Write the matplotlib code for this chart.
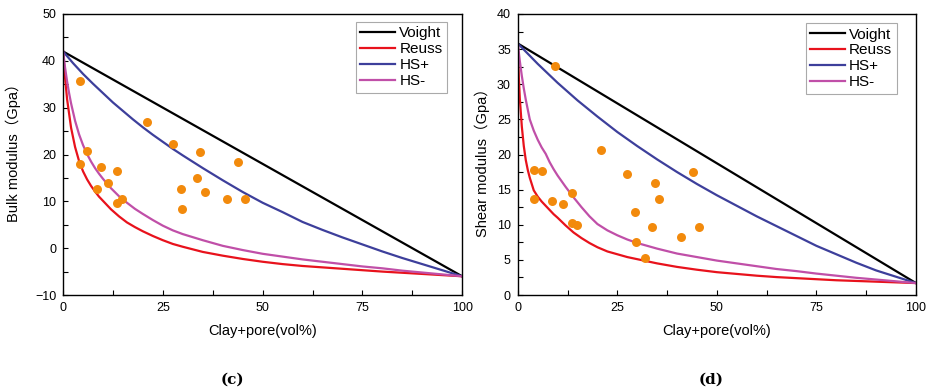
import matplotlib.pyplot as plt
from matplotlib.ticker import MultipleLocator

plt.rcParams['font.family'] = ['Liberation Sans', 'Noto Sans CJK SC']

# ---- (c) bulk modulus (GPa) vs clay+pore (vol%) ----
k_voigt_x = [0, 100]
k_voigt_y = [42, -6]
k_reuss_x = [0, 0.5, 1, 2, 3, 4, 5, 6, 7, 8, 9, 10, 12, 14, 16, 18, 20, 22.5, 25, 27.5, 30,
             35, 40, 45, 50, 55, 60, 65, 70, 75, 80, 85, 90, 95, 100]
k_reuss_y = [42, 36.3, 31.8, 25.7, 21.6, 18.6, 16.4, 14.7, 13.3, 12.1, 11.0, 10.1, 8.3, 6.8, 5.5,
             4.5, 3.6, 2.6, 1.7, 0.9, 0.3, -0.8, -1.6, -2.3, -2.9, -3.4, -3.8, -4.1, -4.4, -4.7,
             -5.0, -5.25, -5.5, -5.75, -6]
k_hsp_x = [0, 2.5, 5, 7.5, 10, 12.5, 15, 17.5, 20, 22.5, 25, 27.5, 30, 35, 40, 45, 50, 55, 60,
           65, 70, 75, 80, 85, 90, 95, 100]
k_hsp_y = [42, 39.5, 37.2, 35.1, 33.1, 31.1, 29.3, 27.5, 25.8, 24.2, 22.7, 21.2, 19.8, 17.1, 14.5,
           12.0, 9.7, 7.7, 5.6, 3.9, 2.3, 0.8, -0.7, -2.1, -3.4, -4.7, -6]
k_hsm_x = [0, 0.5, 1, 1.5, 2, 3, 4, 5, 6, 7, 8, 9, 10, 12, 14, 16, 18, 20, 22.5, 25, 27.5, 30,
           35, 40, 45, 50, 55, 60, 65, 70, 75, 80, 85, 90, 95, 100]
k_hsm_y = [42, 38.5, 35.6, 33.1, 30.9, 27.2, 24.3, 22.0, 20.1, 18.5, 17.1, 15.9, 14.8, 12.8, 11.1,
           9.7, 8.4, 7.3, 6.0, 4.8, 3.8, 3.0, 1.7, 0.5, -0.4, -1.2, -1.8, -2.4, -2.9, -3.4, -3.9,
           -4.3, -4.8, -5.2, -5.6, -6]
k_pts_x = [4.2, 21.0, 27.5, 34.4, 43.8, 6.0, 4.2, 9.4, 13.6, 11.3, 8.6, 33.6, 29.5, 35.6, 41.0,
           45.6, 13.6, 14.8, 29.7]
k_pts_y = [35.6, 26.9, 22.2, 20.5, 18.3, 20.8, 18.0, 17.3, 16.5, 14.0, 12.7, 14.9, 12.6, 11.9,
           10.6, 10.6, 9.7, 10.4, 8.4]

# ---- (d) shear modulus (GPa) vs clay+pore (vol%) ----
g_voigt_x = [0, 100]
g_voigt_y = [35.8, 1.7]
g_reuss_x = [0, 0.25, 0.5, 1, 1.5, 2, 2.5, 3, 4, 5, 6, 7, 8, 9, 10, 12, 14, 16, 18, 20, 22.5, 25,
             27.5, 30, 35, 40, 45, 50, 55, 60, 65, 70, 75, 80, 85, 90, 95, 100]
g_reuss_y = [35.8, 31.0, 28.0, 24.0, 21.2, 19.2, 17.8, 16.7, 14.9, 14.0, 13.3, 12.7, 12.1, 11.5,
             11.0, 9.9, 8.9, 8.1, 7.4, 6.8, 6.2, 5.8, 5.4, 5.1, 4.5, 4.0, 3.6, 3.25, 3.0, 2.75,
             2.55, 2.4, 2.25, 2.1, 2.0, 1.9, 1.8, 1.7]
g_hsp_x = [0, 5, 10, 15, 20, 25, 30, 35, 40, 45, 50, 55, 60, 65, 70, 75, 80, 85, 90, 95, 100]
g_hsp_y = [35.8, 32.9, 30.2, 27.7, 25.4, 23.2, 21.2, 19.3, 17.5, 15.8, 14.2, 12.7, 11.2, 9.8, 8.4,
           7.0, 5.8, 4.6, 3.5, 2.6, 1.7]
g_hsm_x = [0, 0.5, 1, 1.5, 2, 3, 4, 5, 6, 7, 8, 9, 10, 11, 12, 14, 16, 18, 20, 22.5, 25, 27.5, 30,
           35, 40, 45, 50, 55, 60, 65, 70, 75, 80, 85, 90, 95, 100]
g_hsm_y = [35.8, 33.3, 31.2, 29.4, 27.8, 25.0, 23.4, 22.1, 21.0, 20.1, 18.9, 17.9, 17.0, 16.2,
           15.4, 13.9, 12.5, 11.2, 10.1, 9.2, 8.5, 7.9, 7.4, 6.6, 5.9, 5.4, 4.9, 4.5, 4.1, 3.7,
           3.4, 3.05, 2.75, 2.45, 2.2, 1.95, 1.7]
g_pts_x = [9.3, 21.0, 27.5, 43.9, 34.4, 35.5, 4.1, 6.0, 4.1, 8.6, 11.3, 13.7, 13.7, 14.8, 29.5,
           33.6, 45.6, 41.0, 29.8, 31.9]
g_pts_y = [32.6, 20.7, 17.2, 17.5, 15.9, 13.7, 17.8, 17.7, 13.7, 13.4, 13.0, 14.5, 10.2, 10.0,
           11.8, 9.7, 9.7, 8.2, 7.6, 5.3]

fig = plt.figure(figsize=(9.28, 3.91), dpi=100)
ax1 = fig.add_axes([0.068, 0.2455, 0.430, 0.7187])
ax2 = fig.add_axes([0.558, 0.2455, 0.429, 0.7187])

panels = [
    (ax1, k_voigt_x, k_voigt_y, k_reuss_x, k_reuss_y, k_hsp_x, k_hsp_y, k_hsm_x, k_hsm_y,
     k_pts_x, k_pts_y, (-10, 50), 10, 5, 'Bulk modulus（Gpa）', '(c)', 232,
     (0.962, 0.972), (-0.105, 0.52)),
    (ax2, g_voigt_x, g_voigt_y, g_reuss_x, g_reuss_y, g_hsp_x, g_hsp_y, g_hsm_x, g_hsm_y,
     g_pts_x, g_pts_y, (0, 40), 5, 2.5, 'Shear modulus（Gpa）', '(d)', 711,
     (0.952, 0.968), (-0.070, 0.484)),
]

for (ax, vx, vy, rx, ry, px, py, mx, my, sx, sy, ylim, ymaj, ymin, ylab, cap, capx,
     legpos, ylabpos) in panels:
    ax.plot(vx, vy, color='black', lw=1.6, label='Voight')
    ax.plot(rx, ry, color='#e8121c', lw=1.6, label='Reuss')
    ax.plot(px, py, color='#3d3f9b', lw=1.6, label='HS+')
    ax.plot(mx, my, color='#c04fa8', lw=1.6, label='HS-')
    ax.scatter(sx, sy, s=42, color='#f28a0c', zorder=5, linewidths=0)
    ax.set_xlim(0, 100)
    ax.set_ylim(*ylim)
    ax.xaxis.set_major_locator(MultipleLocator(25))
    ax.xaxis.set_minor_locator(MultipleLocator(12.5))
    ax.yaxis.set_major_locator(MultipleLocator(ymaj))
    ax.yaxis.set_minor_locator(MultipleLocator(ymin))
    ax.tick_params(which='both', direction='in', length=3.5, width=0.8)
    ax.tick_params(which='major', labelsize=9, pad=5)
    for sp in ax.spines.values():
        sp.set_linewidth(1.0)
    ax.set_xlabel('Clay+pore(vol%)', fontsize=10.5, labelpad=7)
    ax.set_ylabel(ylab, fontsize=10.5)
    ax.yaxis.set_label_coords(*ylabpos)
    leg = ax.legend(loc='upper right', bbox_to_anchor=legpos, borderaxespad=0,
                    fontsize=11, handlelength=2.3, handletextpad=0.25,
                    borderpad=0.3, labelspacing=0.12, fancybox=False, framealpha=1)
    leg.get_frame().set_edgecolor('#aaaaaa')
    leg.get_frame().set_linewidth(0.8)
    fig.text(capx / 928, 1 - 380 / 391, cap, family='DejaVu Serif', fontsize=11,
             fontweight='bold', ha='center', va='center')

fig.savefig('out.png', dpi=100)
